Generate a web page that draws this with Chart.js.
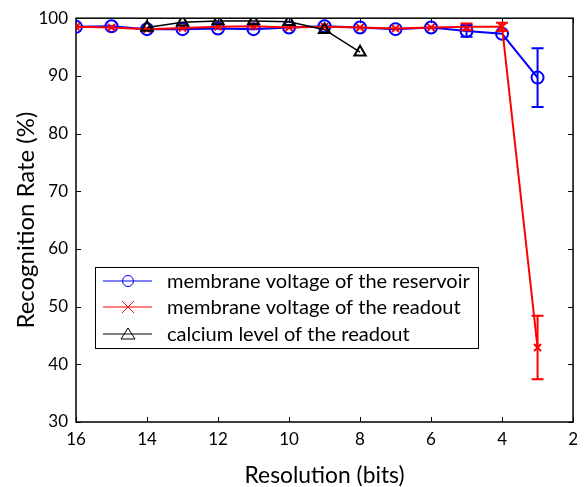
<!DOCTYPE html>
<html>
<head>
<meta charset="utf-8">
<script src="https://cdn.jsdelivr.net/npm/chart.js@4.4.1/dist/chart.umd.min.js"></script>
<style>
html,body{margin:0;padding:0;background:#fff;}
#wrap{width:585px;height:487px;position:relative;}
</style>
</head>
<body>
<div id="wrap"><canvas id="c" width="585" height="487"></canvas></div>
<script>
const resolution = [16,15,14,13,12,11,10,9,8,7,6,5,4,3];
const reservoir = [98.5,98.6,98.1,98.1,98.2,98.1,98.4,98.6,98.4,98.1,98.4,97.8,97.3,89.7];
const reservoirErr = [0,0,0,0,0,0,0,0,0,0,0,1.0,0,5.1];
const readout = [98.5,98.4,98.1,98.3,98.5,98.6,98.4,98.5,98.4,98.2,98.4,98.5,98.5,42.9];
const readoutErr = [0,0,0,0,0,0,0,0,0,0,0,0.6,0.7,5.5];
const calciumRes = [14,13,12,11,10,9,8];
const calcium = [98.4,99.3,99.5,99.5,99.4,98.0,94.1];
const seriesLabels = ['membrane voltage of the reservoir','membrane voltage of the readout','calcium level of the readout'];
const xTicks = [16,14,12,10,8,6,4,2];
const yTicks = [30,40,50,60,70,80,90,100];
const xTitle = 'Resolution (bits)';
const yTitle = 'Recognition Rate (%)';

const FONT = 'Lato, "Open Sans", sans-serif';
const toXY = (xs, ys) => xs.map((x,i)=>({x:x,y:ys[i]}));

// fit a font size so the text has the reference's width
const mctx = document.createElement('canvas').getContext('2d');
function fitSize(text, target){
  mctx.font = '20px ' + FONT;
  return 20 * target / mctx.measureText(text).width;
}
const legendSize = fitSize(seriesLabels[0], 303);
const xTitleSize = fitSize(xTitle, 160);
const yTitleSize = fitSize(yTitle, 217);

const errorBars = {
  id:'errorBars',
  afterDatasetsDraw(chart){
    const ctx = chart.ctx, xs = chart.scales.x, ys = chart.scales.y;
    const sets = [[reservoir,reservoirErr,'#0000ff'],[readout,readoutErr,'#ff0000']];
    ctx.save();
    sets.forEach(([vals,errs,col])=>{
      ctx.strokeStyle = col; ctx.lineWidth = 2;
      vals.forEach((v,i)=>{
        const e = errs[i]; if(!e) return;
        const px = xs.getPixelForValue(resolution[i]);
        const t = ys.getPixelForValue(v+e), b = ys.getPixelForValue(v-e);
        ctx.beginPath();
        ctx.moveTo(px,t); ctx.lineTo(px,b);
        ctx.moveTo(px-6,t); ctx.lineTo(px+6,t);
        ctx.moveTo(px-6,b); ctx.lineTo(px+6,b);
        ctx.stroke();
      });
    });
    ctx.restore();
  }
};

const frame = {
  id:'frame',
  beforeDatasetsDraw(chart){
    const ctx = chart.ctx, a = chart.chartArea, xs = chart.scales.x, ys = chart.scales.y;
    ctx.save();
    ctx.strokeStyle = '#000'; ctx.lineWidth = 1.5;
    ctx.strokeRect(a.left, a.top, a.right-a.left, a.bottom-a.top);
    ctx.lineWidth = 1;
    ctx.beginPath();
    xTicks.forEach(v=>{
      const px = Math.round(xs.getPixelForValue(v))+0.5;
      ctx.moveTo(px,a.bottom); ctx.lineTo(px,a.bottom-5);
      ctx.moveTo(px,a.top); ctx.lineTo(px,a.top+5);
    });
    yTicks.forEach(v=>{
      const py = Math.round(ys.getPixelForValue(v))+0.5;
      ctx.moveTo(a.left,py); ctx.lineTo(a.left+5,py);
      ctx.moveTo(a.right,py); ctx.lineTo(a.right-5,py);
    });
    ctx.stroke();
    ctx.restore();
  }
};

const legendBox = {
  id:'legendBox',
  afterDraw(chart){
    const ctx = chart.ctx;
    const x0 = 95, y0 = 267, w = 383, h = 81;
    ctx.save();
    ctx.fillStyle = '#fff'; ctx.fillRect(x0,y0,w,h);
    ctx.strokeStyle = '#000'; ctx.lineWidth = 1;
    ctx.strokeRect(x0+0.5,y0+0.5,w,h);
    ctx.font = legendSize.toFixed(2) + 'px ' + FONT;
    ctx.textBaseline = 'middle';
    const rows = [281,307,334];
    chart.data.datasets.forEach((ds,i)=>{
      const y = rows[i];
      ctx.strokeStyle = ds.borderColor; ctx.lineWidth = 1;
      ctx.beginPath(); ctx.moveTo(103,y); ctx.lineTo(152,y); ctx.stroke();
      const mx = 128;
      ctx.beginPath();
      if(ds.pointStyle==='circle'){ ctx.arc(mx,y,5.5,0,Math.PI*2); }
      else if(ds.pointStyle==='crossRot'){ ctx.moveTo(mx-6,y-6); ctx.lineTo(mx+6,y+6); ctx.moveTo(mx+6,y-6); ctx.lineTo(mx-6,y+6); }
      else { ctx.moveTo(mx,y-6); ctx.lineTo(mx+7,y+5); ctx.lineTo(mx-7,y+5); ctx.closePath(); }
      ctx.stroke();
      ctx.fillStyle = '#000';
      ctx.fillText(ds.label, 167, y+1);
    });
    ctx.restore();
  }
};

new Chart(document.getElementById('c'), {
  type:'line',
  data:{
    datasets:[
      {label:seriesLabels[0], data:toXY(resolution,reservoir), borderColor:'#0000ff', borderWidth:2,
       pointStyle:'circle', pointRadius:6, pointBorderWidth:2, pointBackgroundColor:'rgba(0,0,0,0)', pointBorderColor:'#0000ff', order:3},
      {label:seriesLabels[1], data:toXY(resolution,readout), borderColor:'#ff0000', borderWidth:2,
       pointStyle:'crossRot', pointRadius:5, pointBorderWidth:2, pointBorderColor:'#ff0000', order:2},
      {label:seriesLabels[2], data:toXY(calciumRes,calcium), borderColor:'#000000', borderWidth:1.5,
       pointStyle:'triangle', pointRadius:6.5, pointBorderWidth:2, pointBackgroundColor:'rgba(0,0,0,0)', pointBorderColor:'#000', order:1}
    ]
  },
  options:{
    responsive:false, animation:false,
    layout:{padding:{left:0,right:8,top:14,bottom:0}},
    plugins:{legend:{display:false}, tooltip:{enabled:false}},
    elements:{line:{tension:0}},
    scales:{
      x:{type:'linear', reverse:true, min:2, max:16,
         afterBuildTicks(s){ s.ticks = xTicks.map(v=>({value:v})); },
         afterFit(s){ s.height = 65; },
         grid:{display:false, drawTicks:false}, border:{display:false},
         ticks:{color:'#000', padding:7, font:{family:FONT,size:17}, maxRotation:0, autoSkip:false},
         title:{display:true, text:xTitle, color:'#000', font:{family:FONT,size:xTitleSize,lineHeight:1},
                padding:{top:0,bottom:487-476-xTitleSize/2}}
      },
      y:{type:'linear', min:30, max:100,
         afterBuildTicks(s){ s.ticks = yTicks.map(v=>({value:v})); },
         afterFit(s){ s.width = 76; },
         grid:{display:false, drawTicks:false}, border:{display:false},
         ticks:{color:'#000', padding:8, font:{family:FONT,size:17}},
         title:{display:true, text:yTitle, color:'#000', font:{family:FONT,size:yTitleSize,lineHeight:1},
                padding:{top:26-yTitleSize/2,bottom:0}}
      }
    }
  },
  plugins:[frame, errorBars, legendBox]
});
</script>
</body>
</html>
